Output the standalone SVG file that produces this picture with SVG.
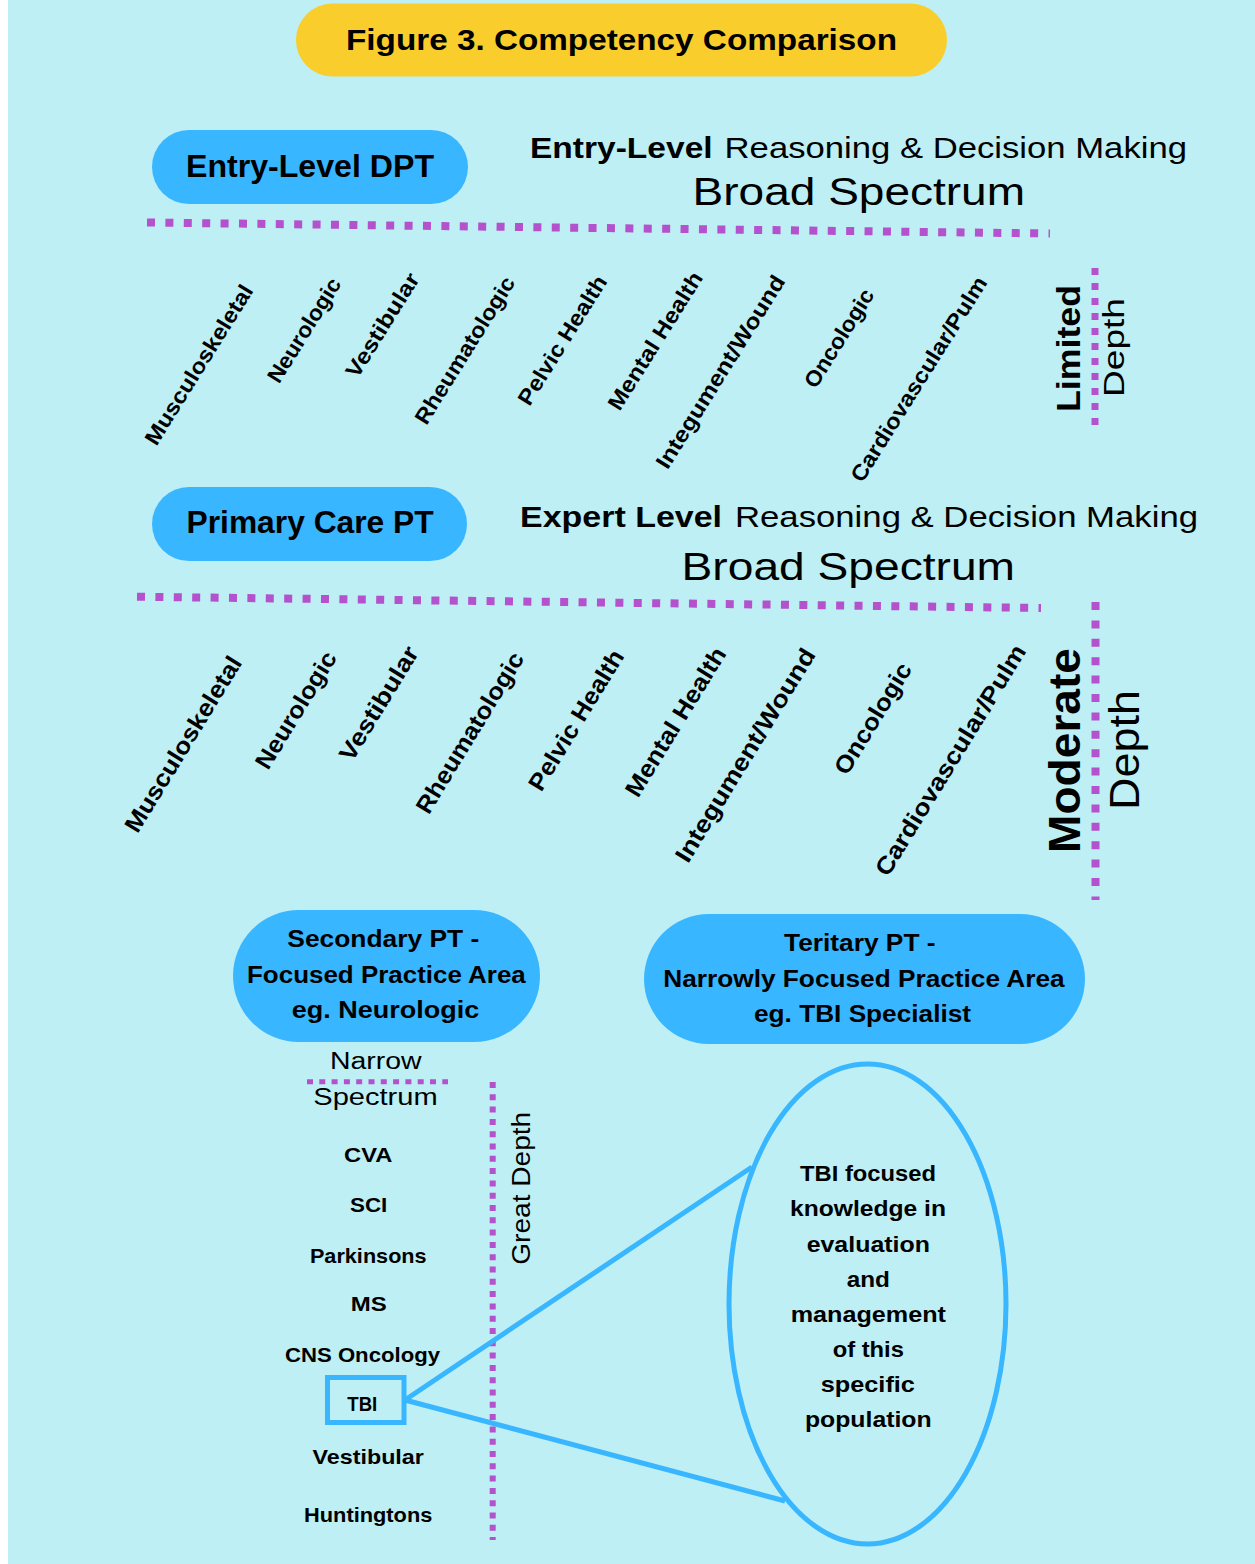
<svg xmlns="http://www.w3.org/2000/svg" width="1255" height="1564" viewBox="0 0 1255 1564">
<defs>
<style>
.b{font-family:"Liberation Sans",Arial,sans-serif;font-weight:bold;fill:#000}
.r{font-family:"Liberation Sans",Arial,sans-serif;font-weight:normal;fill:#000}
.pill{fill:#38B6FF}
.dotL{stroke:#B352CC;stroke-width:8;fill:none;stroke-dasharray:8 10.4}
.dotV1{stroke:#B352CC;stroke-width:7;fill:none;stroke-dasharray:7 8}
.dotS{stroke:#B352CC;stroke-width:6;fill:none;stroke-dasharray:6 6.3}
.conn{stroke:#38B6FF;stroke-width:5;fill:none}
.r1{font-size:22px}
.r2{font-size:24px}
</style>
</defs>
<rect x="0" y="0" width="1255" height="1564" fill="#ffffff"/>
<rect x="8" y="0" width="1247" height="1564" fill="#BEEFF4"/>

<g id="title">
<rect x="296" y="3.5" width="651" height="73" rx="36.5" fill="#F9CD2B"/>
<text class="b" x="346" y="50" font-size="30" textLength="551" lengthAdjust="spacingAndGlyphs">Figure 3. Competency Comparison</text>
</g>

<g id="entry-level-dpt">
<rect class="pill" x="152" y="130" width="316" height="74" rx="37"/>
<text class="b" x="186" y="177" font-size="31" textLength="248" lengthAdjust="spacingAndGlyphs">Entry-Level DPT</text>
</g>

<g id="entry-level-heading">
<text class="b" x="530" y="158" font-size="29" textLength="182.6" lengthAdjust="spacingAndGlyphs">Entry-Level</text>
<text class="r" x="724.6" y="158" font-size="29" textLength="462.4" lengthAdjust="spacingAndGlyphs">Reasoning &amp; Decision Making</text>
<text class="r" x="692.6" y="205" font-size="38" textLength="332.4" lengthAdjust="spacingAndGlyphs">Broad Spectrum</text>
</g>

<g id="entry-level-areas">
<text class="b r1" text-anchor="middle" transform="translate(205.3,368.7) rotate(-58)" textLength="183.8" lengthAdjust="spacingAndGlyphs">Musculoskeletal</text>
<text class="b r1" text-anchor="middle" transform="translate(310.5,334.2) rotate(-58)" textLength="118.9" lengthAdjust="spacingAndGlyphs">Neurologic</text>
<text class="b r1" text-anchor="middle" transform="translate(388.8,329.2) rotate(-58)" textLength="118.7" lengthAdjust="spacingAndGlyphs">Vestibular</text>
<text class="b r1" text-anchor="middle" transform="translate(471.2,354.2) rotate(-58)" textLength="169.1" lengthAdjust="spacingAndGlyphs">Rheumatologic</text>
<text class="b r1" text-anchor="middle" transform="translate(568.8,344.2) rotate(-58)" textLength="147.9" lengthAdjust="spacingAndGlyphs">Pelvic Health</text>
<text class="b r1" text-anchor="middle" transform="translate(661.6,344.9) rotate(-58)" textLength="158.5" lengthAdjust="spacingAndGlyphs">Mental Health</text>
<text class="b r1" text-anchor="middle" transform="translate(726.8,375.9) rotate(-58)" textLength="223.4" lengthAdjust="spacingAndGlyphs">Integument/Wound</text>
<text class="b r1" text-anchor="middle" transform="translate(845.4,342.2) rotate(-58)" textLength="112" lengthAdjust="spacingAndGlyphs">Oncologic</text>
<text class="b r1" text-anchor="middle" transform="translate(925.1,383.2) rotate(-58)" textLength="237.4" lengthAdjust="spacingAndGlyphs">Cardiovascular/Pulm</text>
</g>

<g id="limited-depth">
<text class="b" font-size="34" text-anchor="middle" transform="translate(1080,348.5) rotate(-90)" textLength="127" lengthAdjust="spacingAndGlyphs">Limited</text>
<text class="r" font-size="30" text-anchor="middle" transform="translate(1124,347.5) rotate(-90)" textLength="99" lengthAdjust="spacingAndGlyphs">Depth</text>
</g>

<g id="primary-care-pt">
<rect class="pill" x="152" y="487" width="315" height="74" rx="37"/>
<text class="b" x="186.5" y="533" font-size="31" textLength="247.2" lengthAdjust="spacingAndGlyphs">Primary Care PT</text>
</g>

<g id="expert-level-heading">
<text class="b" x="520" y="527" font-size="29" textLength="202" lengthAdjust="spacingAndGlyphs">Expert Level</text>
<text class="r" x="735" y="527" font-size="29" textLength="463" lengthAdjust="spacingAndGlyphs">Reasoning &amp; Decision Making</text>
<text class="r" x="681.6" y="580" font-size="38" textLength="333.4" lengthAdjust="spacingAndGlyphs">Broad Spectrum</text>
</g>

<g id="primary-care-areas">
<text class="b r2" text-anchor="middle" transform="translate(190.2,748.4) rotate(-58.5)" textLength="201.5" lengthAdjust="spacingAndGlyphs">Musculoskeletal</text>
<text class="b r2" text-anchor="middle" transform="translate(302.8,714.4) rotate(-58.5)" textLength="133" lengthAdjust="spacingAndGlyphs">Neurologic</text>
<text class="b r2" text-anchor="middle" transform="translate(385.8,707.7) rotate(-58.5)" textLength="129.5" lengthAdjust="spacingAndGlyphs">Vestibular</text>
<text class="b r2" text-anchor="middle" transform="translate(476.8,736.9) rotate(-58.5)" textLength="184.3" lengthAdjust="spacingAndGlyphs">Rheumatologic</text>
<text class="b r2" text-anchor="middle" transform="translate(583.1,724.4) rotate(-58.5)" textLength="160.3" lengthAdjust="spacingAndGlyphs">Pelvic Health</text>
<text class="b r2" text-anchor="middle" transform="translate(682.5,726.1) rotate(-58.5)" textLength="170.3" lengthAdjust="spacingAndGlyphs">Mental Health</text>
<text class="b r2" text-anchor="middle" transform="translate(752.2,759.4) rotate(-58.5)" textLength="245.8" lengthAdjust="spacingAndGlyphs">Integument/Wound</text>
<text class="b r2" text-anchor="middle" transform="translate(879.9,722.7) rotate(-58.5)" textLength="126.2" lengthAdjust="spacingAndGlyphs">Oncologic</text>
<text class="b r2" text-anchor="middle" transform="translate(957.5,764.4) rotate(-58.5)" textLength="266.1" lengthAdjust="spacingAndGlyphs">Cardiovascular/Pulm</text>
</g>

<g id="moderate-depth">
<text class="b" font-size="44" text-anchor="middle" transform="translate(1080,750.5) rotate(-90)" textLength="205" lengthAdjust="spacingAndGlyphs">Moderate</text>
<text class="r" font-size="42" text-anchor="middle" transform="translate(1139,750) rotate(-90)" textLength="120" lengthAdjust="spacingAndGlyphs">Depth</text>
</g>

<g id="secondary-pt">
<rect class="pill" x="233" y="910" width="307" height="132" rx="66"/>
<text class="b" font-size="23" text-anchor="middle" x="383.3" y="946.7" textLength="192" lengthAdjust="spacingAndGlyphs">Secondary PT -</text>
<text class="b" font-size="23" text-anchor="middle" x="386.4" y="983.3" textLength="278.8" lengthAdjust="spacingAndGlyphs">Focused Practice Area</text>
<text class="b" font-size="23" text-anchor="middle" x="385.5" y="1018.3" textLength="187.5" lengthAdjust="spacingAndGlyphs">eg. Neurologic</text>
</g>

<g id="tertiary-pt">
<rect class="pill" x="644" y="914" width="441" height="130" rx="65"/>
<text class="b" font-size="23" text-anchor="middle" x="859.8" y="950.7" textLength="151.5" lengthAdjust="spacingAndGlyphs">Teritary PT -</text>
<text class="b" font-size="23" text-anchor="middle" x="864" y="986.7" textLength="401.3" lengthAdjust="spacingAndGlyphs">Narrowly Focused Practice Area</text>
<text class="b" font-size="23" text-anchor="middle" x="862.5" y="1021.7" textLength="217" lengthAdjust="spacingAndGlyphs">eg. TBI Specialist</text>
</g>

<g id="narrow-spectrum">
<text class="r" font-size="23" text-anchor="middle" x="375.8" y="1069.3" textLength="91.7" lengthAdjust="spacingAndGlyphs">Narrow</text>
<text class="r" font-size="23" text-anchor="middle" x="375.5" y="1105" textLength="124.4" lengthAdjust="spacingAndGlyphs">Spectrum</text>
</g>

<g id="great-depth">
<text class="r" font-size="25" text-anchor="middle" transform="translate(530,1188.3) rotate(-90)" textLength="153" lengthAdjust="spacingAndGlyphs">Great Depth</text>
</g>

<g id="neuro-list">
<text class="b" font-size="21" text-anchor="middle" x="368.2" y="1161.7" textLength="48.3" lengthAdjust="spacingAndGlyphs">CVA</text>
<text class="b" font-size="21" text-anchor="middle" x="368.7" y="1211.7" textLength="37.3" lengthAdjust="spacingAndGlyphs">SCI</text>
<text class="b" font-size="21" text-anchor="middle" x="368.3" y="1262.7" textLength="116.7" lengthAdjust="spacingAndGlyphs">Parkinsons</text>
<text class="b" font-size="21" text-anchor="middle" x="368.7" y="1310.7" textLength="36" lengthAdjust="spacingAndGlyphs">MS</text>
<text class="b" font-size="21" text-anchor="middle" x="362.5" y="1361.7" textLength="155" lengthAdjust="spacingAndGlyphs">CNS Oncology</text>
<text class="b" font-size="21" text-anchor="middle" x="368.2" y="1464" textLength="111.3" lengthAdjust="spacingAndGlyphs">Vestibular</text>
<text class="b" font-size="21" text-anchor="middle" x="368.2" y="1521.7" textLength="128.3" lengthAdjust="spacingAndGlyphs">Huntingtons</text>
</g>

<g id="tbi">
<rect x="327.5" y="1377.5" width="76.5" height="45" fill="none" stroke="#38B6FF" stroke-width="5"/>
<text class="b" font-size="21" text-anchor="middle" x="362.3" y="1410.7" textLength="30" lengthAdjust="spacingAndGlyphs">TBI</text>
</g>

<g id="tbi-detail">
<ellipse cx="867.5" cy="1304" rx="138.5" ry="240" fill="none" stroke="#38B6FF" stroke-width="5"/>
<text class="b" font-size="22" text-anchor="middle" x="868" y="1180.7" textLength="136" lengthAdjust="spacingAndGlyphs">TBI focused</text>
<text class="b" font-size="22" text-anchor="middle" x="868" y="1216" textLength="156" lengthAdjust="spacingAndGlyphs">knowledge in</text>
<text class="b" font-size="22" text-anchor="middle" x="868.3" y="1251.7" textLength="123.3" lengthAdjust="spacingAndGlyphs">evaluation</text>
<text class="b" font-size="22" text-anchor="middle" x="868.3" y="1286.7" textLength="43.3" lengthAdjust="spacingAndGlyphs">and</text>
<text class="b" font-size="22" text-anchor="middle" x="868.3" y="1321.7" textLength="155.3" lengthAdjust="spacingAndGlyphs">management</text>
<text class="b" font-size="22" text-anchor="middle" x="868.3" y="1356.7" textLength="71.3" lengthAdjust="spacingAndGlyphs">of this</text>
<text class="b" font-size="22" text-anchor="middle" x="867.8" y="1391.7" textLength="94.3" lengthAdjust="spacingAndGlyphs">specific</text>
<text class="b" font-size="22" text-anchor="middle" x="868.3" y="1426.7" textLength="126.7" lengthAdjust="spacingAndGlyphs">population</text>
</g>

<g id="connectors">
<line class="dotL" x1="147" y1="222.5" x2="1050" y2="233.5"/>
<line class="dotV1" x1="1095" y1="268" x2="1095" y2="429"/>
<line class="dotL" x1="137" y1="596.7" x2="1041" y2="608"/>
<line class="dotL" x1="1095.5" y1="602" x2="1095.5" y2="900"/>
<line class="dotS" x1="307" y1="1081.7" x2="448" y2="1081.7" style="stroke-width:5"/>
<line class="dotS" x1="492.7" y1="1082" x2="492.7" y2="1540"/>
<line class="conn" x1="405" y1="1400" x2="752" y2="1167"/>
<line class="conn" x1="405" y1="1400" x2="785" y2="1501"/>
</g>
</svg>
